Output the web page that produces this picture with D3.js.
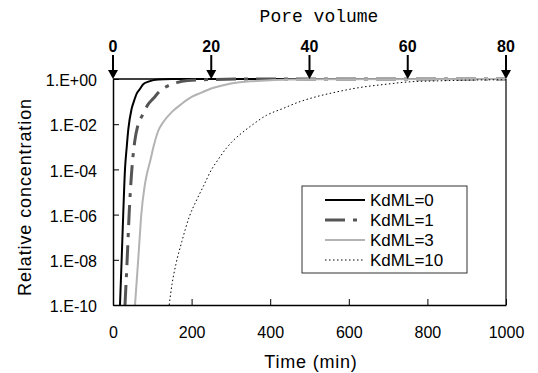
<!DOCTYPE html>
<html>
<head>
<meta charset="utf-8">
<script src="https://cdn.jsdelivr.net/npm/d3@7"></script>
<style>
    body { margin: 0; background: #fff; }
    #chart { width: 538px; height: 373px; }
    text { font-family: "Liberation Sans", Arial, sans-serif; fill: #000; }
</style>
</head>
<body>
<div id="chart"></div>
<script>
//Datos
const timeTicks = [0, 200, 400, 600, 800, 1000];
const poreTicks = [0, 20, 40, 60, 80];
const yTicks = [1, 1e-2, 1e-4, 1e-6, 1e-8, 1e-10];
const yTickLabels = ['1.E+00', '1.E-02', '1.E-04', '1.E-06', '1.E-08', '1.E-10'];
const seriesNames = ['KdML=0', 'KdML=1', 'KdML=3', 'KdML=10'];

const kd0Time = [17.8, 22, 26, 30.5, 35, 39, 47, 53, 60, 68, 77, 90, 103, 115, 150, 200, 1000];
const kd0Conc = [1e-10, 1e-8, 1e-6, 1e-4, 1e-3, 6e-3, 0.045, 0.1, 0.22, 0.35, 0.59, 0.76, 0.89, 0.95, 0.99, 1, 1];

const kd1Time = [30.5, 36, 41, 47, 55, 64, 75, 88, 103, 120, 140, 162, 190, 250, 350, 1000];
const kd1Conc = [1e-10, 1e-8, 1e-6, 6e-5, 1.6e-3, 0.01, 0.025, 0.07, 0.14, 0.3, 0.5, 0.69, 0.85, 0.95, 1, 1];

const kd3Time = [56, 62, 66, 72, 80, 86, 95, 103, 115, 128, 150, 175, 200, 225, 250, 275, 300, 350, 400, 450, 500, 1000];
const kd3Conc = [1e-10, 3e-9, 3e-8, 1e-6, 1.6e-5, 6e-5, 2.5e-4, 1e-3, 5e-3, 0.0125, 0.035, 0.08, 0.16, 0.25, 0.38, 0.5, 0.63, 0.79, 0.89, 0.95, 0.98, 1];

const kd10Time = [143, 150, 160, 175, 194, 213, 230, 251, 268, 289, 306, 323, 349, 391, 433, 476, 518, 561, 628, 700, 750, 830, 900, 1000];
const kd10Conc = [1e-10, 8e-10, 6.3e-9, 6.3e-8, 7.9e-7, 4.5e-6, 1.8e-5, 1e-4, 2.8e-4, 8.9e-4, 1.9e-3, 3.5e-3, 7.9e-3, 0.025, 0.05, 0.1, 0.166, 0.25, 0.42, 0.6, 0.74, 0.83, 0.89, 0.93];

let seriesTime = [kd0Time, kd1Time, kd3Time, kd10Time];
let seriesConc = [kd0Conc, kd1Conc, kd3Conc, kd10Conc];

//Estilos de cada serie
let styles = [
    { color: '#000000', width: 2, dash: null },
    { color: '#555555', width: 3, dash: '20,8,4,8' },
    { color: '#b3b3b3', width: 2, dash: null },
    { color: '#000000', width: 1, dash: '1.5,2.5' }
];

let margin = {top: 79, right: 32, bottom: 68, left: 113},
    width = 538 - margin.left - margin.right,
    height = 373 - margin.top - margin.bottom;

let svg = d3.select('#chart')
    .append('svg')
      .attr('width', 538)
      .attr('height', 373)
    .append('g')
      .attr('transform', 'translate(' + margin.left + ',' + margin.top + ')');

//Escalas
let x = d3.scaleLinear().domain([0, 1000]).range([0, width]);
let xPore = d3.scaleLinear().domain([0, 80]).range([0, width]);
let y = d3.scaleLog().domain([1e-10, 1]).range([height, 0]);

svg.append('clipPath')
    .attr('id', 'clip')
    .append('rect')
    .attr('x', 0).attr('y', -2)
    .attr('width', width).attr('height', height + 2);

//Borde superior y derecho
svg.append('line')
    .attr('x1', 0).attr('x2', width).attr('y1', 0).attr('y2', 0)
    .attr('stroke', '#000').attr('stroke-width', 1.5);
svg.append('line')
    .attr('x1', width).attr('x2', width).attr('y1', 0).attr('y2', height)
    .attr('stroke', '#000').attr('stroke-width', 1.2);

//Lineas
let line = d3.line()
    .x(function(d) { return x(d[0]); })
    .y(function(d) { return y(d[1]); })
    .curve(d3.curveMonotoneX);

svg.append('g')
    .attr('clip-path', 'url(#clip)')
    .selectAll('path')
    .data(seriesNames)
    .enter()
    .append('path')
    .attr('fill', 'none')
    .attr('stroke', function(d, i) { return styles[i].color; })
    .attr('stroke-width', function(d, i) { return styles[i].width; })
    .attr('stroke-dasharray', function(d, i) { return styles[i].dash; })
    .attr('d', function(d, i) {
        return line(seriesTime[i].map(function(t, j) { return [t, seriesConc[i][j]]; }));
    });

//Eje X
let xAxis = d3.axisBottom(x)
    .tickValues(timeTicks)
    .tickFormat(d3.format('d'))
    .tickSizeInner(-6)
    .tickSizeOuter(0)
    .tickPadding(22);

let gx = svg.append('g')
    .attr('transform', 'translate(0,' + height + ')')
    .call(xAxis);
gx.select('.domain').attr('stroke-width', 1.5);
gx.selectAll('text').style('font-size', '16px').style('font-family', '"Liberation Sans", Arial, sans-serif');

//Eje Y
let yAxis = d3.axisLeft(y)
    .tickValues(yTicks)
    .tickFormat(function(d, i) { return yTickLabels[i]; })
    .tickSizeInner(-6)
    .tickSizeOuter(0)
    .tickPadding(16);

let gy = svg.append('g').call(yAxis);
gy.select('.domain').attr('stroke-width', 1.5);
gy.selectAll('text')
    .attr('dy', '0.42em')
    .style('font-size', '16px')
    .style('font-family', '"Liberation Sans", Arial, sans-serif');

//Eje superior con flechas (Pore volume)
let arrows = svg.append('g')
    .selectAll('g')
    .data(poreTicks)
    .enter()
    .append('g')
    .attr('transform', function(d) { return 'translate(' + xPore(d) + ',0)'; });

arrows.append('line')
    .attr('y1', -24).attr('y2', -8)
    .attr('stroke', '#000').attr('stroke-width', 2);
arrows.append('path')
    .attr('d', 'M-5,-9L5,-9L0,0Z')
    .attr('fill', '#000');
arrows.append('text')
    .attr('y', -27)
    .attr('text-anchor', 'middle')
    .style('font-size', '16px')
    .style('font-weight', 'bold')
    .text(function(d) { return d; });

//Titulos
svg.append('text')
    .attr('x', 206).attr('y', -57)
    .attr('text-anchor', 'middle')
    .style('font-family', '"Liberation Mono", monospace')
    .style('font-size', '18px')
    .text('Pore volume');

svg.append('text')
    .attr('x', 198).attr('y', 289)
    .attr('text-anchor', 'middle')
    .style('font-size', '18px')
    .style('letter-spacing', '0.8px')
    .text('Time (min)');

svg.append('text')
    .attr('transform', 'translate(-82,' + (height / 2 + 5) + ') rotate(-90)')
    .attr('text-anchor', 'middle')
    .style('font-size', '18px')
    .style('letter-spacing', '0.9px')
    .text('Relative concentration');

//Leyenda
let legend = svg.append('g').attr('transform', 'translate(189,107)');
legend.append('rect')
    .attr('width', 165).attr('height', 87)
    .attr('fill', '#fff').attr('stroke', '#333').attr('stroke-width', 1);

let items = legend.selectAll('.item')
    .data(seriesNames)
    .enter()
    .append('g')
    .attr('class', 'item')
    .attr('transform', function(d, i) { return 'translate(0,' + (14 + i * 20) + ')'; });

items.append('line')
    .attr('x1', 23).attr('x2', 63)
    .attr('stroke', function(d, i) { return styles[i].color; })
    .attr('stroke-width', function(d, i) { return styles[i].width; })
    .attr('stroke-dasharray', function(d, i) { return styles[i].dash; });
items.append('text')
    .attr('x', 68).attr('dy', '0.36em')
    .style('font-size', '17px')
    .text(function(d) { return d; });
</script>
</body>
</html>
